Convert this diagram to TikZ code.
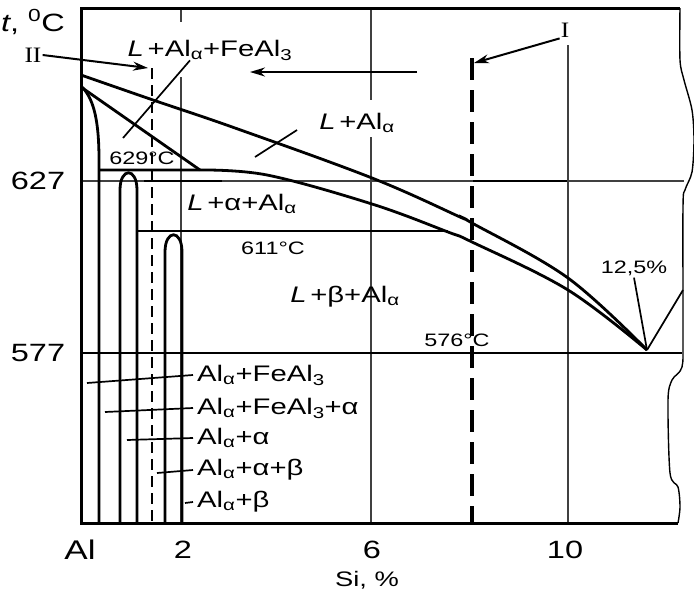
\documentclass[tikz,border=0pt]{standalone}
\usepackage{fontspec}
\newfontfamily\dgfont[FakeStretch=1.3]{Liberation Sans}
\newfontfamily\romfont[FakeStretch=1.15]{Liberation Serif}
\usetikzlibrary{arrows.meta}

\begin{document}
\begin{tikzpicture}[x=1pt,y=-1pt,
    axisbox/.style={line width=3pt},
    gridline/.style={line width=1.2pt,black!75},
    phase/.style={line width=2.8pt},
    lead/.style={line width=1.7pt},
    cutI/.style={line width=3.4pt,dash pattern=on 22pt off 10pt},
    cutII/.style={line width=2pt,dash pattern=on 11pt off 6pt},
    arrow/.style={-{Stealth[length=15pt,width=9pt]},line width=2pt},
    num/.style={font=\dgfont\fontsize{25}{25}\selectfont,inner sep=0pt},
    region/.style={font=\dgfont\fontsize{22.5}{22.5}\selectfont,inner sep=0pt},
    temp/.style={font=\dgfont\fontsize{18}{18}\selectfont,inner sep=0pt},
    roman/.style={font=\romfont\fontsize{22}{22}\selectfont,inner sep=1pt}]
    \useasboundingbox (0,0) rectangle (694,595);

    \draw[gridline] (81,181) -- (684,181);
    \draw[gridline] (181,10) -- (181,22) (181,77) -- (181,523);
    \draw[gridline] (371,8) -- (371,100) (371,137) -- (371,523);
    \draw[gridline] (568,45) -- (568,523);
    \draw[lead] (144,181) -- (222,181) (473,181) -- (567,181);

    \draw[axisbox] (680,8) -- (81,8) -- (81,523) -- (678,523);
    \draw[line width=1.4pt] plot[smooth,tension=0.5] coordinates {(680,8) (680,60) (684,80) (692,110) (694,140) (692,172) (685,190) (683,207) (683,333) (682,367) (672,380) (668,400) (670,473) (678,487) (680,507) (678,523)};

    \draw[phase] plot[smooth,tension=0.6] coordinates {(81,75) (153,100) (235,128) (372,178) (460,217) (472,223) (568,278) (647,350)};
    \draw[phase] (99,170) -- (200,170) plot[smooth,tension=0.6] coordinates {(200,170) (267,175) (372,204) (448,232) (472,242) (568,290) (647,350)};
    \draw[phase] (81,87) -- (200,170);
    \draw[phase] (82,87) .. controls (95,100) and (99,125) .. (99,160) -- (99,523);
    \draw[phase] (120,523) -- (120,190) .. controls (120,167) and (137,167) .. (137,190) -- (137,523);
    \draw[phase] (165,523) -- (165,252) .. controls (165,229) and (182,229) .. (182,252) -- (182,523);
    \draw[phase] (137,231) -- (448,231);
    \draw[phase] (81,353) -- (682,353);

    \draw[cutII] (152,68) -- (152,523);
    \draw[cutI] (472,58) -- (472,523);

    \node[num] (tunit) at (33,22) {\textit{t}, \textsuperscript{0}C};
    \node[num] (t627) at (38,181) {627};
    \node[num] (t577) at (38,353) {577};
    \node[num,font=\dgfont\fontsize{27}{27}\selectfont] (xAl) at (80,550) {Al};
    \node[num] (x2) at (183,550) {2};
    \node[num] (x6) at (372,550) {6};
    \node[num] (x10) at (565,550) {10};
    \node[font=\dgfont\fontsize{21}{21}\selectfont,inner sep=0pt] (xunit) at (367,580) {Si, \%};

    \node[temp] (T629) at (142,158) {629°C};
    \node[temp] (T611) at (273,248) {611°C};
    \node[temp] (T576) at (457,340) {576°C};
    \node[temp] (eut) at (634,268) {12,5\%};
    \coordinate (eutP) at (647,350);
    \coordinate (siTop) at (683,290);
    \draw[lead] ([yshift=-2pt]eut.south) -- (eutP);
    \draw[lead] (eutP) -- (siTop);

    \node[region] (LFe) at (210,50) {\textit{L}\,+Al\textsubscript{α}+FeAl\textsubscript{3}};
    \node[region] (LAl) at (357,123) {\textit{L}\,+Al\textsubscript{α}};
    \node[region] (Lalpha) at (242,204) {\textit{L}\,+α+Al\textsubscript{α}};
    \node[region] (Lbeta) at (345,297) {\textit{L}\,+β+Al\textsubscript{α}};
    \coordinate (LFeP) at (123,138);
    \coordinate (LAlP) at (255,157);
    \draw[lead] ([xshift=-20pt]LFe.south) -- (LFeP);
    \draw[lead] ([xshift=-22pt,yshift=-7pt]LAl.west) -- (LAlP);

    \node[region,anchor=west] (sFe) at (197,375) {Al\textsubscript{α}+FeAl\textsubscript{3}};
    \node[region,anchor=west] (sFeA) at (197,408) {Al\textsubscript{α}+FeAl\textsubscript{3}+α};
    \node[region,anchor=west] (sA) at (197,438) {Al\textsubscript{α}+α};
    \node[region,anchor=west] (sAB) at (197,470) {Al\textsubscript{α}+α+β};
    \node[region,anchor=west] (sB) at (197,502) {Al\textsubscript{α}+β};
    \coordinate (sFeP) at (87,383);
    \coordinate (sFeAP) at (105,412);
    \coordinate (sAP) at (127,440);
    \coordinate (sABP) at (157,473);
    \coordinate (sBP) at (185,503);
    \draw[lead] ([xshift=-4pt]sFe.west) -- (sFeP);
    \draw[lead] ([xshift=-4pt]sFeA.west) -- (sFeAP);
    \draw[lead] ([xshift=-4pt]sA.west) -- (sAP);
    \draw[lead] ([xshift=-4pt]sAB.west) -- (sABP);
    \draw[lead] ([xshift=-4pt]sB.west) -- (sBP);

    \node[roman] (cII) at (33,55) {II};
    \node[roman] (cI) at (565,30) {I};
    \coordinate (cIIP) at (148,68);
    \coordinate (cIP) at (474,63);
    \coordinate (flowS) at (417,72);
    \coordinate (flowE) at (250,72);
    \draw[arrow] (cII.east) -- (cIIP);
    \draw[arrow] (cI.south west) -- (cIP);
    \draw[arrow] (flowS) -- (flowE);
\end{tikzpicture}
\end{document}
